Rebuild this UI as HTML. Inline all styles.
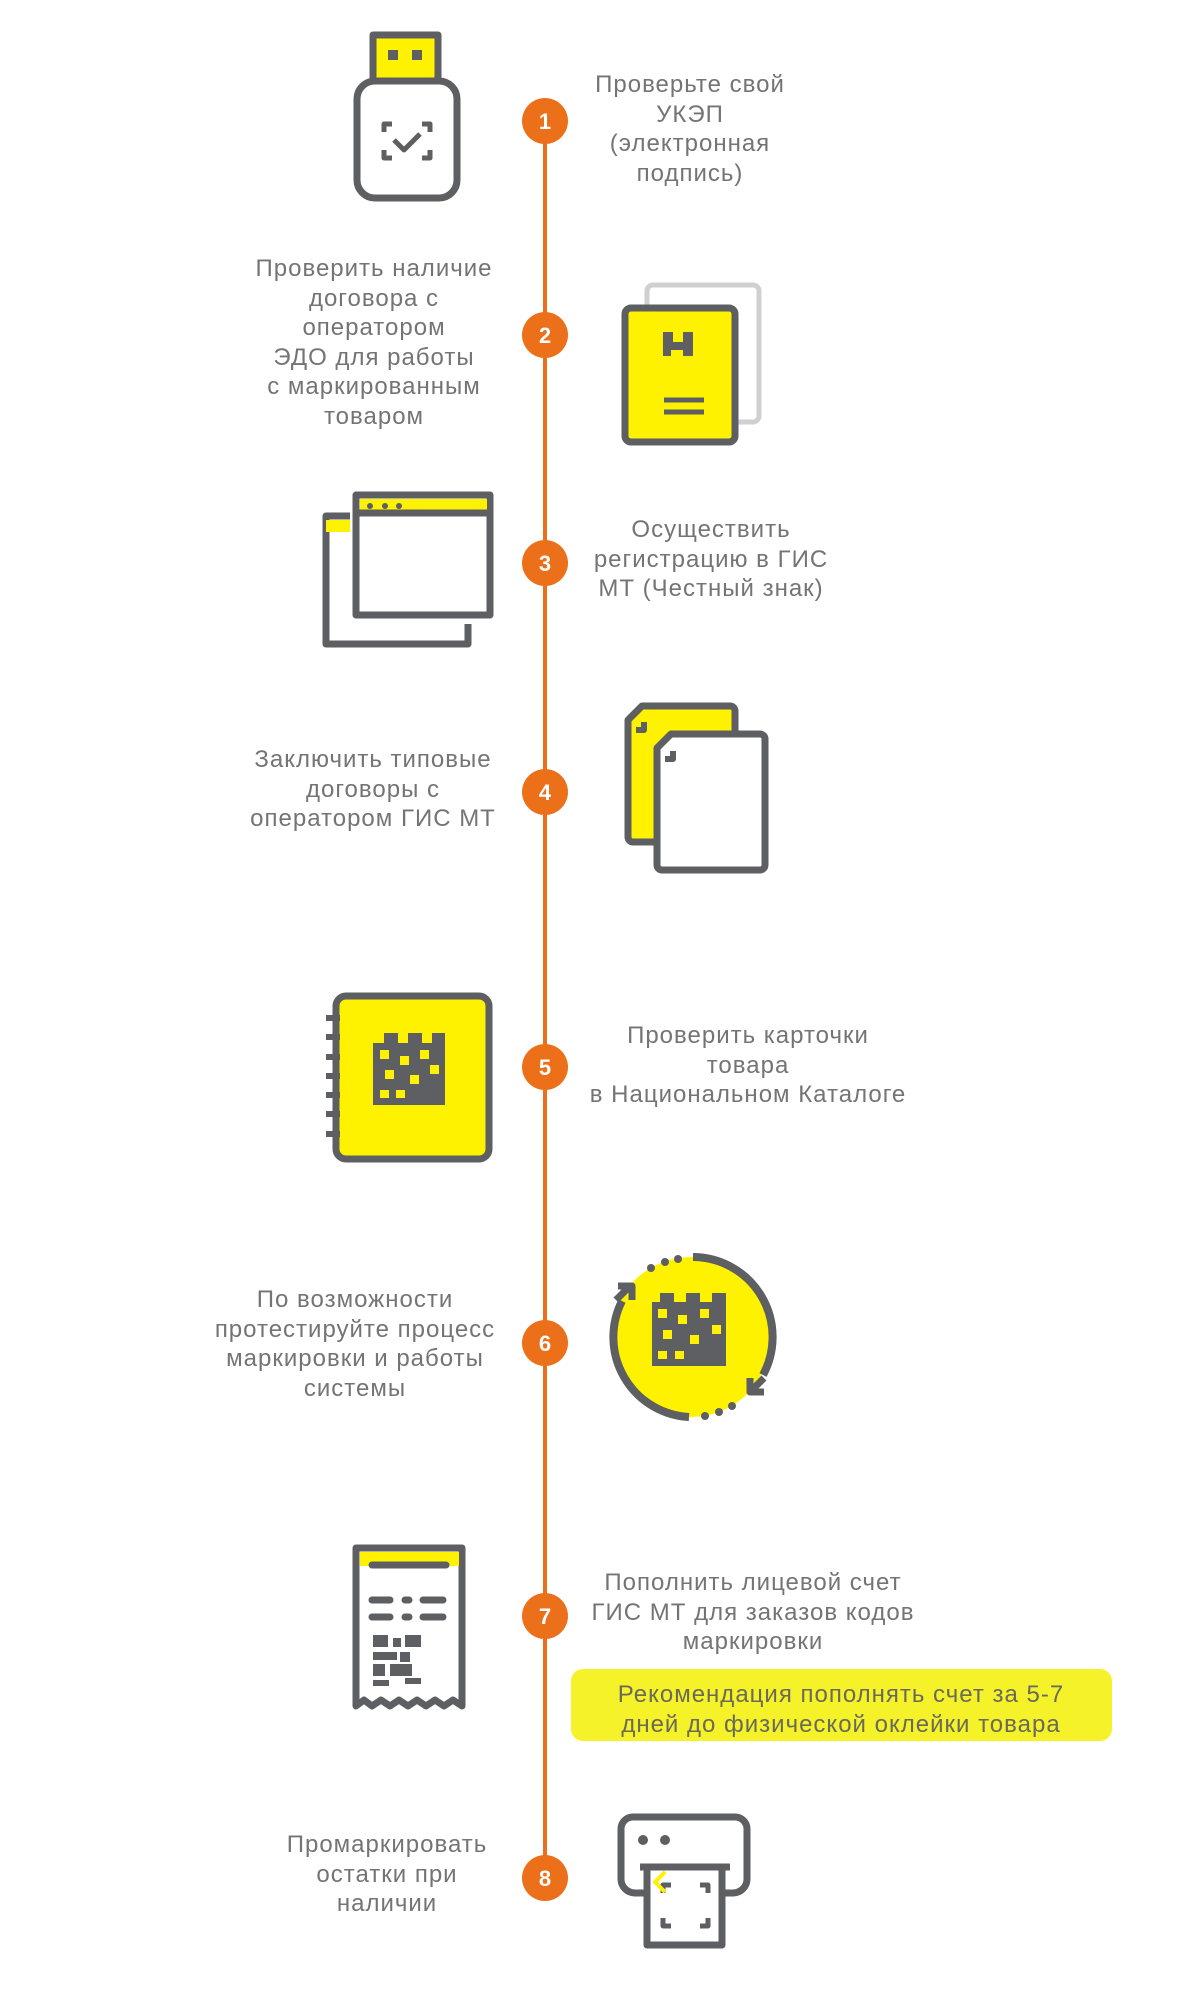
<!DOCTYPE html>
<html><head><meta charset="utf-8"><style>
html,body{margin:0;padding:0;background:#fff;}
body{width:1190px;height:1990px;position:relative;overflow:hidden;font-family:"Liberation Sans","DejaVu Sans",sans-serif;}
.t{position:absolute;transform:translateX(-50%);text-align:center;white-space:nowrap;color:#747474;font-size:24px;letter-spacing:1px;line-height:29.5px;}
.box{position:absolute;left:571px;top:1669px;width:541px;height:72px;background:#f5f22a;border-radius:12px;}
.bt{position:absolute;left:841px;top:1680px;transform:translateX(-50%);text-align:center;white-space:nowrap;color:#6a6a5a;font-size:24px;letter-spacing:1px;line-height:30px;}
</style></head><body>
<svg width="1190" height="1990" style="position:absolute;left:0;top:0">
<g fill="none" stroke="#5d5f63" stroke-width="7" stroke-linejoin="round">
<!-- 1 USB -->
<rect x="373" y="35" width="65" height="48" fill="#fff200"/>
<rect x="388" y="50" width="10" height="10" fill="#5d5f63" stroke="none"/>
<rect x="412" y="50" width="10" height="10" fill="#5d5f63" stroke="none"/>
<rect x="357" y="81" width="100" height="117" rx="18" fill="#fff"/>
<path d="M384 132v-8h8M422 124h8v8M430 150v8h-8M392 158h-8v-8" stroke-width="5"/>
<path d="M394 140l10 10 16-16" stroke-width="5"/>
<!-- 2 docs -->
<rect x="647" y="285" width="112" height="137" rx="6" stroke="#d0d0d0" stroke-width="5"/>
<rect x="625" y="308" width="110" height="134" rx="6" fill="#fff200"/>
<path d="M664 400h40M664 412h40" stroke-width="5"/>
<path d="M663 332h10v10h10v-10h10v24h-10v-6h-12v6h-8z" fill="#5d5f63" stroke="none"/>
<!-- 3 windows -->
<path d="M350 516h-24v128h142v-20"/>
<rect x="326" y="520" width="24" height="12" fill="#fff200" stroke="none"/>
<rect x="356" y="495" width="134" height="120" fill="#fff"/>
<rect x="360" y="499" width="127" height="12" fill="#fff200" stroke="none"/>
<path d="M356 513h134"/>
<circle cx="370" cy="506" r="3" fill="#5d5f63" stroke="none"/><circle cx="385" cy="506" r="3" fill="#5d5f63" stroke="none"/><circle cx="399" cy="506" r="3" fill="#5d5f63" stroke="none"/>
<!-- 4 docs -->
<path d="M628 720l14-14h88a5 5 0 0 1 5 5v126a5 5 0 0 1-5 5h-97a5 5 0 0 1-5-5z" fill="#fff200"/>
<path d="M657 748l14-14h89a5 5 0 0 1 5 5v126a5 5 0 0 1-5 5h-98a5 5 0 0 1-5-5z" fill="#fff"/>
<path d="M644 722v8h-8M673 751v8h-8" stroke-width="6"/>
<!-- 5 notebook -->
<rect x="336" y="996" width="153" height="163" rx="10" fill="#fff200"/>
<g stroke-width="6"><path d="M326 1018h14M326 1037h14M326 1057h14M326 1076h14M326 1095h14M326 1114h14M326 1134h14"/></g>
<!-- 6 cycle -->
<circle cx="691" cy="1337" r="80" fill="#fff200" stroke="none"/>
<path d="M693 1257a80 80 0 0 1 70 118" stroke-width="8"/>
<path d="M689 1417a80 80 0 0 1 -67 -116" stroke-width="8"/>
<path d="M616 1300l14-14M618 1286h14v14" stroke-width="7"/>
<path d="M764 1378l-14 14M750 1378v14h14" stroke-width="7"/>
<g fill="#5d5f63" stroke="none"><circle cx="651" cy="1268" r="4"/><circle cx="665" cy="1262" r="4"/><circle cx="678" cy="1259" r="4"/><circle cx="705" cy="1416" r="4"/><circle cx="719" cy="1412" r="4"/><circle cx="732" cy="1406" r="4"/></g>
<!-- 7 receipt -->
<path d="M356 1548h106v158l-9-6-9 6-9-6-9 6-9-6-9 6-9-6-9 6-9-6-9 6-8-6 -8 6z" fill="#fff"/>
<rect x="360" y="1552" width="99" height="14" fill="#fff200" stroke="none"/>
<path d="M372 1565h74M372 1600h18M405 1600h4M423 1600h20M372 1617h18M405 1617h4M423 1617h20" stroke-width="7" stroke-linecap="round"/>
<!-- 8 printer -->
<path d="M655 1893h-20a14 14 0 0 1-14-14v-50a12 12 0 0 1 12-12h102a12 12 0 0 1 12 12v50a14 14 0 0 1-14 14h-18"/>
<path d="M640 1867h90"/>
<rect x="647" y="1867" width="75" height="78" fill="#fff"/>
<circle cx="643" cy="1840" r="5" fill="#5d5f63" stroke="none"/><circle cx="665" cy="1840" r="5" fill="#5d5f63" stroke="none"/>
<path d="M663 1893v-8h8M700 1885h8v8M663 1918v8h8M708 1918v8h-8" stroke-width="5"/>
<path d="M665 1872l-10 10 10 10" stroke="#fff200" stroke-width="4"/>
</g>
<!-- QR blocks -->
<g fill="#5d5f63">
<path d="M373 1635h15v12h-15zM393 1638h8v9h-8zM405 1635h16v12h-16zM373 1652h24v8h-24zM400 1652h10v10h-10zM373 1664h12v12h-12zM390 1664h22v12h-22zM405 1678h16v6h-16zM373 1680h16v6h-16z"/>
<rect x="373" y="1043" width="72" height="62"/>
<rect x="384" y="1033" width="14" height="10"/><rect x="408" y="1033" width="14" height="10"/><rect x="432" y="1033" width="13" height="10"/>
<rect x="652" y="1302" width="74" height="64"/>
<rect x="660" y="1293" width="14" height="9"/><rect x="686" y="1293" width="14" height="9"/><rect x="712" y="1293" width="14" height="9"/>
</g>
<g fill="#fff200">
<rect x="380" y="1050" width="9" height="9"/><rect x="400" y="1056" width="9" height="9"/><rect x="420" y="1050" width="9" height="9"/><rect x="385" y="1070" width="9" height="9"/><rect x="410" y="1075" width="9" height="9"/><rect x="380" y="1090" width="9" height="8"/><rect x="396" y="1090" width="9" height="8"/><rect x="430" y="1065" width="9" height="9"/>
<rect x="658" y="1309" width="9" height="9"/><rect x="678" y="1315" width="9" height="9"/><rect x="700" y="1309" width="9" height="9"/><rect x="663" y="1330" width="9" height="9"/><rect x="690" y="1335" width="9" height="9"/><rect x="658" y="1351" width="9" height="8"/><rect x="675" y="1351" width="9" height="8"/><rect x="712" y="1325" width="9" height="9"/>
</g>
<!-- timeline -->
<line x1="545" y1="121" x2="545" y2="1878" stroke="#ec7019" stroke-width="4"/>
<g fill="#ec7019">
<circle cx="545" cy="121" r="23"/><circle cx="545" cy="335" r="23"/><circle cx="545" cy="563" r="23"/><circle cx="545" cy="792" r="23"/><circle cx="545" cy="1067" r="23"/><circle cx="545" cy="1343" r="23"/><circle cx="545" cy="1616" r="23"/><circle cx="545" cy="1878" r="23"/>
</g>
<g fill="#fff" font-family="Liberation Sans, sans-serif" font-weight="bold" font-size="22" text-anchor="middle">
<text x="545" y="129">1</text><text x="545" y="343">2</text><text x="545" y="571">3</text><text x="545" y="800">4</text><text x="545" y="1075">5</text><text x="545" y="1351">6</text><text x="545" y="1624">7</text><text x="545" y="1886">8</text>
</g>
</svg>
<div class="t" style="left:690px;top:70px">Проверьте свой<br>УКЭП<br>(электронная<br>подпись)</div>
<div class="t" style="left:374px;top:254px">Проверить наличие<br>договора с<br>оператором<br>ЭДО для работы<br>с маркированным<br>товаром</div>
<div class="t" style="left:711px;top:515px">Осуществить<br>регистрацию в ГИС<br>МТ (Честный знак)</div>
<div class="t" style="left:373px;top:745px">Заключить типовые<br>договоры с<br>оператором ГИС МТ</div>
<div class="t" style="left:748px;top:1021px">Проверить карточки<br>товара<br>в Национальном Каталоге</div>
<div class="t" style="left:355px;top:1285px">По возможности<br>протестируйте процесс<br>маркировки и работы<br>системы</div>
<div class="t" style="left:753px;top:1568px">Пополнить лицевой счет<br>ГИС МТ для заказов кодов<br>маркировки</div>
<div class="box"></div>
<div class="bt">Рекомендация пополнять счет за 5-7<br>дней до физической оклейки товара</div>
<div class="t" style="left:387px;top:1830px">Промаркировать<br>остатки при<br>наличии</div>
</body></html>
